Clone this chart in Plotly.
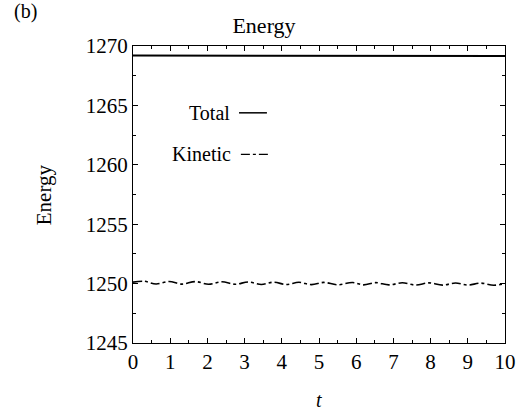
import plotly.graph_objects as go

# ---- data ----
t_total = [0, 2, 4, 6, 8, 8.4, 10]
e_total = [1269.2, 1269.2, 1269.2, 1269.2, 1269.2, 1269.15, 1269.15]

t_kin = [0, 0.3, 0.62, 0.97, 1.32, 1.67, 2.03, 2.39, 2.75, 3.1, 3.45, 3.79, 4.12,
         4.46, 4.8, 5.13, 5.5, 5.9, 6.2, 6.52, 6.88, 7.24, 7.6, 7.96, 8.32, 8.67,
         9.0, 9.34, 9.7, 10.0]
e_kin = [1250.12, 1250.20, 1249.97, 1250.18, 1249.96, 1250.17, 1249.95, 1250.15,
         1249.94, 1250.14, 1249.93, 1250.12, 1249.92, 1250.11, 1249.91, 1250.10,
         1249.90, 1250.09, 1249.89, 1250.08, 1249.89, 1250.07, 1249.88, 1250.06,
         1249.87, 1250.05, 1249.87, 1250.04, 1249.86, 1250.02]

x_ticks = list(range(0, 11))
y_ticks = [1245, 1250, 1255, 1260, 1265, 1270]

FONT = "Liberation Serif, DejaVu Serif, serif"

fig = go.Figure()
fig.add_trace(go.Scatter(x=t_total, y=e_total, mode="lines",
                         line=dict(color="black", width=2), showlegend=False))
fig.add_trace(go.Scatter(x=t_kin, y=e_kin, mode="lines",
                         line=dict(color="black", width=1.6, dash="dashdot", shape="spline"),
                         showlegend=False))

axis_common = dict(showgrid=False, zeroline=False, showline=True, linecolor="black",
                   linewidth=1.3, mirror="ticks", ticks="inside", ticklen=5,
                   tickcolor="black", tickfont=dict(family=FONT, size=21, color="black"))

fig.update_xaxes(range=[0, 10], tickvals=x_ticks, ticktext=[str(v) for v in x_ticks],
                 minor=dict(ticks="inside", ticklen=3, dtick=0.5, tickcolor="black"),
                 **axis_common)
fig.update_yaxes(range=[1245, 1270], tickvals=y_ticks, ticktext=[str(v) for v in y_ticks],
                 minor=dict(ticks="inside", ticklen=3, dtick=2.5, tickcolor="black"),
                 **axis_common)

fig.update_layout(
    width=528, height=414,
    margin=dict(l=133, r=21, t=46, b=71),
    paper_bgcolor="white", plot_bgcolor="white",
    title=dict(text="Energy", x=0.5, xanchor="center", y=0.94, yanchor="middle",
               font=dict(family=FONT, size=22, color="black")),
    font=dict(family=FONT, color="black"),
    annotations=[
        dict(text="(b)", xref="paper", yref="paper", x=-0.326, y=1.115,
             xanchor="left", yanchor="middle", showarrow=False,
             font=dict(family=FONT, size=20, color="black")),
        dict(text="<i>t</i>", xref="paper", yref="paper", x=0.5, y=-0.192,
             xanchor="center", yanchor="middle", showarrow=False,
             font=dict(family=FONT, size=20, color="black")),
        dict(text="Energy", xref="paper", yref="paper", x=-0.24, y=0.5,
             xanchor="center", yanchor="middle", showarrow=False, textangle=-90,
             font=dict(family=FONT, size=21, color="black")),
        dict(text="Total", xref="paper", yref="paper", x=0.265, y=0.775,
             xanchor="right", yanchor="middle", showarrow=False,
             font=dict(family=FONT, size=20, color="black")),
        dict(text="Kinetic", xref="paper", yref="paper", x=0.27, y=0.635,
             xanchor="right", yanchor="middle", showarrow=False,
             font=dict(family=FONT, size=20, color="black")),
    ],
    shapes=[
        dict(type="line", xref="paper", yref="paper", x0=0.285, x1=0.36, y0=0.775, y1=0.775,
             line=dict(color="black", width=1.5)),
        dict(type="line", xref="paper", yref="paper", x0=0.29, x1=0.37, y0=0.635, y1=0.635,
             line=dict(color="black", width=1.2, dash="dashdot")),
    ],
)

fig.write_html("out.html")
